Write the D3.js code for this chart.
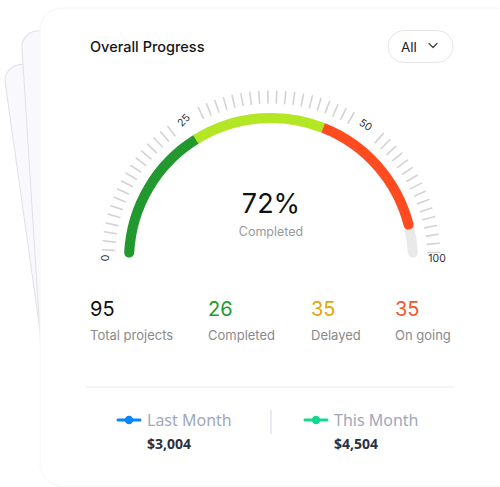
<!DOCTYPE html>
<html><head><meta charset="utf-8">
<script src="https://cdn.jsdelivr.net/npm/d3@7"></script>
<style>html,body{margin:0;padding:0;background:#fff;}svg{display:block;}</style>
</head><body>
<svg id="c" width="500" height="487"></svg>
<script>
// ---- data ----
const title = "Overall Progress";
const filterLabel = "All";
const gaugeLabels = [0, 25, 50, 100];
const segmentStops = [0, 25, 45, 89, 100];   // green, lime, red, remaining(grey)
const segmentNames = ["Completed", "Progress", "On going", "Remaining"];
const segmentColors = ["#22992f", "#b3e623", "#ff4b1f", "#e9e9e9"];
const centerValue = "72%";
const centerLabel = "Completed";
const statValues = [95, 26, 35, 35];
const statLabels = ["Total projects", "Completed", "Delayed", "On going"];
const statColors = ["#111111", "#1f9a2e", "#e5a50a", "#f2572a"];
const legendNames = ["Last Month", "This Month"];
const legendValues = ["$3,004", "$4,504"];
const legendColors = ["#0a84ff", "#13d990"];

const svg = d3.select("#c");
const F = "Inter, 'Noto Sans', sans-serif";

// ---- background cards ----
const bg = svg.append("g");
bg.append("rect").attr("x", 0).attr("y", 0).attr("width", 200).attr("height", 420).attr("rx", 16)
  .attr("transform", "translate(3,67) rotate(-8)")
  .attr("fill", "#f9f9fd").attr("stroke", "#e0e0e6");
bg.append("rect").attr("x", 0).attr("y", 0).attr("width", 200).attr("height", 420).attr("rx", 16)
  .attr("transform", "translate(21,32) rotate(-3.6)")
  .attr("fill", "#f9f9fd").attr("stroke", "#e0e0e6");
svg.append("rect").attr("x", 40).attr("y", 8).attr("width", 480).attr("height", 478).attr("rx", 22)
  .attr("fill", "#fff").attr("stroke", "#f6f6f8").attr("stroke-width", 1);

// ---- header ----
svg.append("text").attr("x", 90).attr("y", 52).text(title)
  .attr("font-family", F).attr("font-size", 14.5).attr("font-weight", 500).attr("fill", "#151515");
svg.append("rect").attr("x", 388).attr("y", 30.5).attr("width", 65).attr("height", 32).attr("rx", 16)
  .attr("fill", "#fff").attr("stroke", "#e6e6e6");
svg.append("text").attr("x", 401).attr("y", 51.5).text(filterLabel)
  .attr("font-family", F).attr("font-size", 13.5).attr("font-weight", 400).attr("fill", "#222");
svg.append("path").attr("d", "M429,43.5 L433,47.5 L437,43.5").attr("fill", "none")
  .attr("stroke", "#444").attr("stroke-width", 1.3).attr("stroke-linecap", "round").attr("stroke-linejoin", "round");

// ---- gauge ----
const cx = 271, cy = 260, R = 142;
const ang = d3.scaleLinear().domain(gaugeLabels).range([-87, -32, 35, 87]);
const rad = d => d * Math.PI / 180;
const pt = (a, r) => [cx + r * Math.sin(rad(a)), cy - r * Math.cos(rad(a))];
function arcPath(a0, a1, r) {
  const p = d3.path();
  const s = pt(a0, r);
  p.moveTo(s[0], s[1]);
  p.arc(cx, cy, r, rad(a0 - 90), rad(a1 - 90), false);
  return p.toString();
}
const g = svg.append("g");
// ticks
const labelAngles = gaugeLabels.map(ang);
const tickAngles = d3.range(-86.5, 88, 3.05).filter(a => labelAngles.every(l => Math.abs(a - l) > 5.2 || Math.abs(l) > 80));
g.selectAll("line.tick").data(tickAngles).join("line").attr("class", "tick")
  .attr("x1", a => pt(a, 157)[0]).attr("y1", a => pt(a, 157)[1])
  .attr("x2", a => pt(a, 169)[0]).attr("y2", a => pt(a, 169)[1])
  .attr("stroke", "#d3d3d3").attr("stroke-width", 1.6).attr("stroke-linecap", "round");
// labels
g.selectAll("text.gl").data(gaugeLabels).join("text").attr("class", "gl")
  .attr("transform", v => {
    const a = ang(v);
    if (v === 0) return `translate(${cx - 166},${cy - 2}) rotate(-90)`;
    if (v === 100) return `translate(${cx + 166},${cy - 2})`;
    const p = pt(a, 165);
    const rot = v === 25 ? -45 : a;
    return `translate(${p[0]},${p[1]}) rotate(${rot})`;
  })
  .attr("text-anchor", "middle").attr("dy", "0.35em")
  .attr("font-family", F).attr("font-size", 10.5).attr("fill", "#333").text(d => d);

// arc segments: grey bg, red, green, lime on top
const segs = segmentNames.map((n, i) => ({name: n, a0: ang(segmentStops[i]), a1: ang(segmentStops[i + 1]), color: segmentColors[i]}));
const order = [3, 2, 0, 1];
g.append("path").attr("d", arcPath(ang(0), ang(100), R)).attr("fill", "none")
  .attr("stroke", segmentColors[3]).attr("stroke-width", 10).attr("stroke-linecap", "round");
order.slice(1).forEach(i => {
  const s = segs[i];
  g.append("path").attr("d", arcPath(s.a0, s.a1, R)).attr("fill", "none")
    .attr("stroke", s.color).attr("stroke-width", 10)
    .attr("stroke-linecap", i === 1 ? "butt" : "round");
});

// center text
svg.append("text").attr("x", cx).attr("y", 213).attr("text-anchor", "middle").text(centerValue)
  .attr("font-family", F).attr("font-size", 27).attr("font-weight", 400).attr("fill", "#111");
svg.append("text").attr("x", cx).attr("y", 236).attr("text-anchor", "middle").text(centerLabel)
  .attr("font-family", F).attr("font-size", 12.5).attr("fill", "#9a9a9a");

// ---- stats ----
const statX = d3.scaleOrdinal().domain(statLabels).range([90, 208, 311, 395]);
const st = svg.append("g").selectAll("g").data(statLabels).join("g")
  .attr("transform", d => `translate(${statX(d)},0)`);
st.append("text").attr("y", 316).text((d, i) => statValues[i])
  .attr("font-family", F).attr("font-size", 20).attr("fill", (d, i) => statColors[i]);
st.append("text").attr("y", 340).text(d => d)
  .attr("font-family", F).attr("font-size", 13).attr("fill", "#8a8a8a");

// divider
svg.append("line").attr("x1", 86).attr("x2", 454).attr("y1", 387).attr("y2", 387)
  .attr("stroke", "#eef1f6").attr("stroke-width", 1.5);

// ---- legend ----
const LF = "'Noto Sans', Lato, sans-serif";
const legX = d3.scaleOrdinal().domain(legendNames).range([118, 305]);
const lg = svg.append("g").selectAll("g").data(legendNames).join("g")
  .attr("transform", d => `translate(${legX(d)},0)`);
lg.append("line").attr("x1", 0).attr("x2", 22).attr("y1", 420).attr("y2", 420)
  .attr("stroke", (d, i) => legendColors[i]).attr("stroke-width", 3).attr("stroke-linecap", "round");
lg.append("circle").attr("cx", 11).attr("cy", 420).attr("r", 4.2).attr("fill", (d, i) => legendColors[i]);
lg.append("text").attr("x", 29).attr("y", 425.5).text(d => d)
  .attr("font-family", LF).attr("font-size", 16).attr("fill", "#9ea8ba");
lg.append("text").attr("x", 29).attr("y", 449).text((d, i) => legendValues[i])
  .attr("font-family", LF).attr("font-size", 14).attr("font-weight", 700).attr("fill", "#2b3143");
svg.append("line").attr("x1", 271).attr("x2", 271).attr("y1", 410).attr("y2", 434)
  .attr("stroke", "#dfe4ec").attr("stroke-width", 1.5);
</script>
</body></html>
